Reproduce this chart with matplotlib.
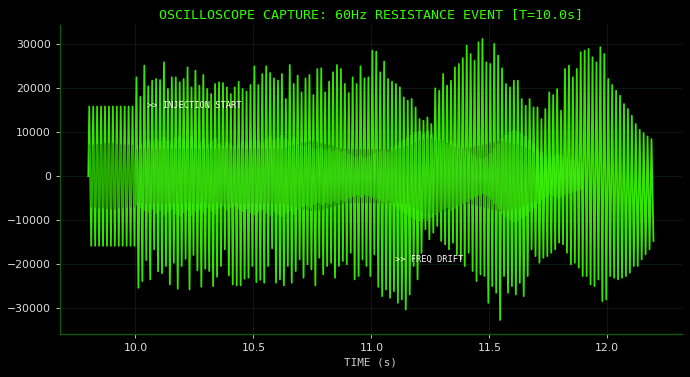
import numpy as np
import matplotlib
matplotlib.use("Agg")
import matplotlib.pyplot as plt

# capture settings
t_start = 9.8
t_inject = 10.0
mains_hz = 60
clip_level = 15800
n_clipped = 12

# per-cycle positive peaks after injection (read from the capture)
peak_hi = [
    22420, 18000, 25070, 20370, 21660, 22050, 21810, 25830, 19780, 22420, 22420, 21280,
    22050, 24690, 20140, 23940, 20520, 22960, 19780, 18640, 20900, 21280, 21130, 20140,
    18640, 20140, 21430, 19780, 19160, 20680, 24910, 20680, 23180, 24910, 23410, 22190,
    21660, 23180,
    17500, 25220, 20910, 22800, 19010, 22190, 22950, 18400, 24320, 24470, 19010, 21430,
    23560, 25220, 24320, 20910, 18860, 22420, 20910, 24920, 22190, 22420, 28480, 28250,
    23560, 25980, 22050, 21430, 20910, 20150, 17880, 17120, 17500, 15600, 12950, 12570,
    13330, 11820, 19920, 19390, 23180, 20530, 21660, 24690, 25450, 26740, 29620, 27730,
    26210, 30380,
    31130, 25830, 25450, 30000, 27350, 24470, 20910, 20150, 21660, 21660, 17500, 15980,
    17500, 15600, 15600, 12950, 15230, 19010, 18400, 19770, 14850, 24320, 25070, 22420,
    24320, 28110, 28480, 28860, 26970, 25830, 29240, 27730, 22050, 20680, 19390, 18250,
    16360, 15230, 13710, 11820, 10530, 9770, 9010, 8410,
]

# per-cycle negative peaks after injection
peak_lo = [
    -25320, -23800, -19030, -23420, -16600, -21600, -22000, -20380, -24560, -19640, -25540, -20380,
    -18740, -25700, -17890, -21370, -25090, -21000, -21520, -24930, -22830, -20380, -16600, -22510,
    -24560, -24780, -24780, -23270, -23040, -20380, -24020, -23500, -24180, -20380, -16370, -24180,
    -23420, -24780,
    -20380, -24180, -21520, -18890, -23040, -20000, -21140, -24780, -18510, -22280, -20380, -19640,
    -23040, -20380, -19250, -20000, -17370, -23420, -22660, -18890, -20380, -22660, -17750, -25090,
    -27210, -25700, -27590, -26080, -28730, -27970, -30240, -26830, -20380, -23420, -17370, -12050,
    -14320, -12810, -11290, -14700, -15460, -16600, -15080, -17750, -18890, -20380, -17370, -21520,
    -23800, -22280,
    -22660, -28730, -24930, -26450, -32620, -22660, -26450, -24930, -26830, -24180, -27210, -22660,
    -16600, -18130, -19640, -18510, -18130, -17370, -16600, -15080, -15460, -17370, -20000, -19640,
    -20760, -22660, -22660, -24560, -24930, -23420, -28350, -27970, -22660, -23040, -23420, -23040,
    -22660, -21900, -20380, -20380, -18890, -17750, -16600, -14700,
]

# half-height of the bright noise band around zero, per cycle after injection
band_amp = [
    6500, 7200, 7800, 8200, 7600, 8400, 7900, 8800, 8100, 7400, 8600, 9000,
    8300, 7700, 8900, 8100, 7600, 8400, 7200, 7900, 8500, 7300, 6800, 7700,
    7100, 6600, 7400, 8000, 7500, 8300, 8800, 8100, 7600, 8400, 8900, 8200,
    8700, 9200, 8400, 7900, 8600, 7500, 7000, 6600, 7200, 6400, 6000, 6500,
    5900, 6300, 5600, 6100, 5400, 5800, 5000, 4600, 4300, 4800, 4200, 4500,
    4800, 5200, 5600, 6000, 5500, 6400, 6900, 7600, 8200, 8800, 9300, 9800,
    10200, 9600, 10100, 9400, 8800, 8200, 7600, 7100, 7800, 7300, 6700, 6200,
    5800, 5200, 4700, 4300, 4000, 4400, 5200, 6300, 7400, 8500, 9300, 9900,
    10400, 10100, 9600, 9000, 8100, 7200, 6200, 5400, 4800, 4300, 4600, 5000,
    4700, 4300, 3900, 3600, 3300, 3000,
]

# half-height of the dim reference trace, per cycle from the start of capture
ghost_amp = [
    7000, 7000, 7200, 7200, 7400, 7400, 7400, 7200, 7200, 7000, 7000, 7000,
    6000, 6000, 6200, 6200, 6000, 6000, 6200, 6200, 6000, 6000, 6200, 6200,
    6000, 6000, 6200, 6200, 6000, 6000, 6200, 6200, 6000, 6000, 6200, 6200,
    6000, 6000, 6200, 6200, 6000, 6000, 6200, 6200, 6000, 6000, 6200, 6200,
    6000, 6200, 6400, 6800, 7000, 7200, 7400, 7600, 7800, 7800, 7600, 7400,
    7200, 7000, 6800, 6400, 6200, 6000, 6000, 6000, 6000, 6000, 6000, 6000,
    6000, 6000, 6000, 6000, 6000, 6000, 6000, 6200, 6400, 6800, 7200, 7600,
    8000, 8200, 8400, 8400, 8200, 8000, 7800, 7400, 7000, 6600, 6400, 6200,
    6200, 6400, 6600, 6800, 7000, 7200, 7400, 7600, 7800, 7800, 7600, 7400,
    7200, 7000, 6800, 6400, 6000, 5400,
]

title = "OSCILLOSCOPE CAPTURE: 60Hz RESISTANCE EVENT [T=10.0s]"
notes = [(">> INJECTION START", 10.05, 15500), (">> FREQ DRIFT", 11.1, -19400)]

# build the traces: one sample at each quarter period
hi = np.concatenate([np.full(n_clipped, clip_level), peak_hi])
lo = np.concatenate([np.full(n_clipped, -clip_level), peak_lo])
n_cyc = len(hi)
main_y = np.concatenate([[0], np.column_stack([hi, lo]).ravel()])
main_t = t_start + np.concatenate([[0], (2 * np.arange(2 * n_cyc) + 1) / (4 * mains_hz)])

ghost = np.repeat(np.array(ghost_amp), 2) * np.tile([1, -1], len(ghost_amp))
ghost_t = main_t[1:len(ghost) + 1]

band = np.repeat(np.array(band_amp), 4) * np.tile([1, -1], 2 * len(band_amp))
band_t = t_inject + np.arange(len(band)) / (4 * mains_hz)

green = "#36e400"
fig = plt.figure(figsize=(6.9, 3.77), dpi=100, facecolor="black")
ax = fig.add_axes([0.087, 0.114, 0.901, 0.82])
ax.set_facecolor("black")

ax.plot(main_t, main_y, color=green, lw=1.3, zorder=3)
ax.plot(ghost_t, ghost, color="#0b4a00", lw=1.2, alpha=0.35, zorder=4)
ax.plot(band_t, band, color="#40f014", lw=0.8, alpha=0.6, zorder=5)

for txt, x, y in notes:
    ax.text(x, y, txt, color="white", fontsize=6.3, family="DejaVu Sans Mono", zorder=6)

ax.set_title(title, color="#33ff00", fontsize=9.6, family="DejaVu Sans Mono", pad=5)
ax.set_xlabel("TIME (s)", color="#cccccc", fontsize=7.9, family="DejaVu Sans Mono", labelpad=3)
ax.set_xticks([10.0, 10.5, 11.0, 11.5, 12.0])
ax.set_yticks([-30000, -20000, -10000, 0, 10000, 20000, 30000])
ax.tick_params(colors="#dddddd", labelsize=7.8, length=3, width=0.6)

ax.grid(True, color="#143514", lw=0.6, alpha=0.6)
ax.set_axisbelow(True)
for s in ["top", "right"]:
    ax.spines[s].set_visible(False)
for s in ["left", "bottom"]:
    ax.spines[s].set_color("#0c5a0c")
    ax.spines[s].set_linewidth(1.0)

fig.savefig("out.png", dpi=100, facecolor="black")
